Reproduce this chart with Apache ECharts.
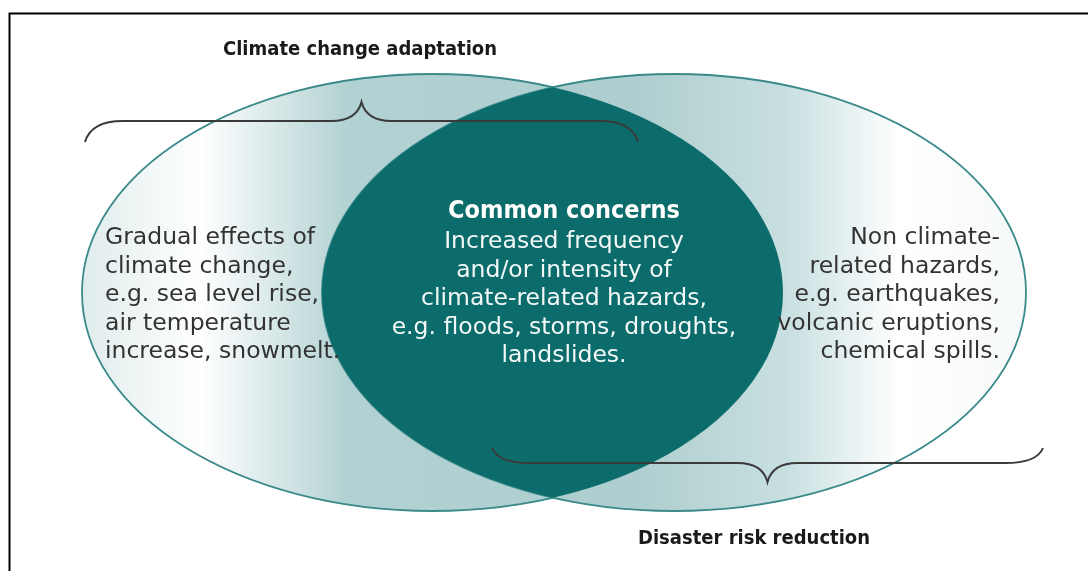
<!DOCTYPE html>
<html><head><meta charset="utf-8">
<script src="https://cdn.jsdelivr.net/npm/echarts@6/dist/echarts.min.js"></script>
<style>html,body{margin:0;padding:0;background:#fff}#c{width:1088px;height:571px}</style>
</head><body><div id="c"></div>
<script>
// ---- Diagram data (diagram units on hidden value axes) ----
const setNames = ['Climate change adaptation', 'Disaster risk reduction'];
const ellipseCX = [432.5, 674];
const ellipseCY = [292.5, 292.5];
const ellipseRX = [350.5, 352];
const ellipseRY = [218.5, 218.5];

const braceX1 = [85, 492];
const braceX2 = [638, 1043];
const braceY = [121, 463];
const braceTipY = [102, 482];
const braceEndY = [142, 448];

const setTitleX = [360, 754];
const setTitleY = [50, 539];

const commonTitle = 'Common concerns';
const commonTitlePos = [564, 211];
const leftLines = ['Gradual effects of', 'climate change,', 'e.g. sea level rise,', 'air temperature', 'increase, snowmelt.'];
const commonLines = ['Increased frequency', 'and/or intensity of', 'climate-related hazards,', 'e.g. floods, storms, droughts,', 'landslides.'];
const rightLines = ['Non climate-', 'related hazards,', 'e.g. earthquakes,', 'volcanic eruptions,', 'chemical spills.'];
const leftTextX = 105, rightTextX = 1000, commonTextX = 564;
const sideFirstY = 238, commonFirstY = 242, lineStep = 28.5;

// ---- Build text items from the arrays ----
const texts = [];
setNames.forEach((t, i) => texts.push({ v: [setTitleX[i], setTitleY[i]], t, kind: 'set' }));
texts.push({ v: commonTitlePos, t: commonTitle, kind: 'ctitle' });
leftLines.forEach((t, i) => texts.push({ v: [leftTextX, sideFirstY + i * lineStep], t, kind: 'left' }));
rightLines.forEach((t, i) => texts.push({ v: [rightTextX, sideFirstY + i * lineStep], t, kind: 'right' }));
commonLines.forEach((t, i) => texts.push({ v: [commonTextX, commonFirstY + i * lineStep], t, kind: 'common' }));

const bodyFont = "'DejaVu Sans', sans-serif";
const titleFont = "'DejaVu Sans Condensed', 'DejaVu Sans', sans-serif";
const textStyles = {
  set:    { fontFamily: titleFont, fontWeight: 'bold', fontSize: 20, fill: '#1a1a1a', align: 'center' },
  ctitle: { fontFamily: titleFont, fontWeight: 'bold', fontSize: 25, fill: '#ffffff', align: 'center' },
  left:   { fontFamily: bodyFont, fontSize: 23.5, fill: '#333333', align: 'left' },
  right:  { fontFamily: bodyFont, fontSize: 23.5, fill: '#333333', align: 'right' },
  common: { fontFamily: bodyFont, fontSize: 23.5, fill: '#f2f8f8', align: 'center' }
};

const fills = [
  new echarts.graphic.LinearGradient(0, 0, 1, 0, [
    { offset: 0, color: '#e0ecec' },
    { offset: 0.17, color: '#ffffff' },
    { offset: 0.38, color: '#b2d1d2' },
    { offset: 1, color: '#abcccd' }
  ]),
  new echarts.graphic.LinearGradient(0, 0, 1, 0, [
    { offset: 0, color: '#abcccd' },
    { offset: 0.45, color: '#afcecf' },
    { offset: 0.66, color: '#c8dfe0' },
    { offset: 0.82, color: '#ffffff' },
    { offset: 1, color: '#f6f9f9' }
  ])
];

const chart = echarts.init(document.getElementById('c'), null, { renderer: 'canvas' });
chart.setOption({
  animation: false,
  backgroundColor: '#ffffff',
  grid: { left: 0, right: 0, top: 0, bottom: 0 },
  xAxis: { type: 'value', min: 0, max: 1088, show: false },
  yAxis: { type: 'value', min: 0, max: 571, inverse: true, show: false },
  graphic: [{
    type: 'rect', left: 7, top: 11, z: 100,
    shape: { width: 1100, height: 600 },
    style: { fill: 'none', stroke: '#000', lineWidth: 2 }
  }],
  series: [
    { // the two sets
      type: 'custom', clip: false, z: 1,
      data: ellipseCX.map((cx, i) => [cx, ellipseCY[i], ellipseRX[i], ellipseRY[i]]),
      renderItem: (params, api) => {
        const c = api.coord([api.value(0), api.value(1)]);
        const s = api.size([api.value(2), api.value(3)]);
        return {
          type: 'ellipse',
          shape: { cx: c[0], cy: c[1], rx: s[0], ry: s[1] },
          style: { fill: fills[params.dataIndex], stroke: '#3a8a8a', lineWidth: 1.8 }
        };
      }
    },
    { // intersection: common concerns
      type: 'custom', clip: false, z: 2,
      data: [[ellipseCX[0], ellipseCX[1], ellipseCY[0], ellipseRX[0], ellipseRX[1], ellipseRY[0]]],
      renderItem: (params, api) => {
        const c1 = api.coord([api.value(0), api.value(2)]);
        const c2 = api.coord([api.value(1), api.value(2)]);
        const s1 = api.size([api.value(3), api.value(5)]);
        const s2 = api.size([api.value(4), api.value(5)]);
        const a1 = s1[0], a2 = s2[0], ry = s1[1], cy = c1[1];
        const xs = (c1[0] * a2 + c2[0] * a1) / (a1 + a2);
        const u = (xs - c1[0]) / a1;
        const dy = ry * Math.sqrt(1 - u * u);
        const top = cy - dy, bot = cy + dy;
        return {
          type: 'path',
          shape: { pathData: `M${xs},${top}A${a1},${ry} 0 0 1 ${xs},${bot}A${a2},${ry} 0 0 1 ${xs},${top}Z` },
          style: { fill: '#0c6c6b', stroke: null }
        };
      }
    },
    { // braces
      type: 'custom', clip: false, z: 3,
      data: braceX1.map((x1, i) => [x1, braceX2[i], braceY[i], braceTipY[i], braceEndY[i]]),
      renderItem: (params, api) => {
        const p1 = api.coord([api.value(0), api.value(2)]);
        const p2 = api.coord([api.value(1), api.value(2)]);
        const y = p1[1];
        const yt = api.coord([0, api.value(3)])[1];
        const ye = api.coord([0, api.value(4)])[1];
        const x1 = p1[0], x2 = p2[0], m = (x1 + x2) / 2;
        const d = `M${x1},${ye} Q${x1 + 6},${y} ${x1 + 38},${y} L${m - 30},${y} Q${m - 5},${y} ${m},${yt} Q${m + 5},${y} ${m + 30},${y} L${x2 - 38},${y} Q${x2 - 6},${y} ${x2},${ye}`;
        return {
          type: 'path',
          shape: { pathData: d },
          style: { fill: null, stroke: '#3a3a3a', lineWidth: 2 }
        };
      }
    },
    { // texts
      type: 'custom', clip: false, z: 4,
      data: texts.map(o => o.v),
      renderItem: (params, api) => {
        const o = texts[params.dataIndex];
        const p = api.coord([api.value(0), api.value(1)]);
        const st = textStyles[o.kind];
        return {
          type: 'text',
          style: Object.assign({ text: o.t, x: p[0], y: p[1], verticalAlign: 'middle' }, st)
        };
      }
    }
  ]
});
</script>
</body></html>
